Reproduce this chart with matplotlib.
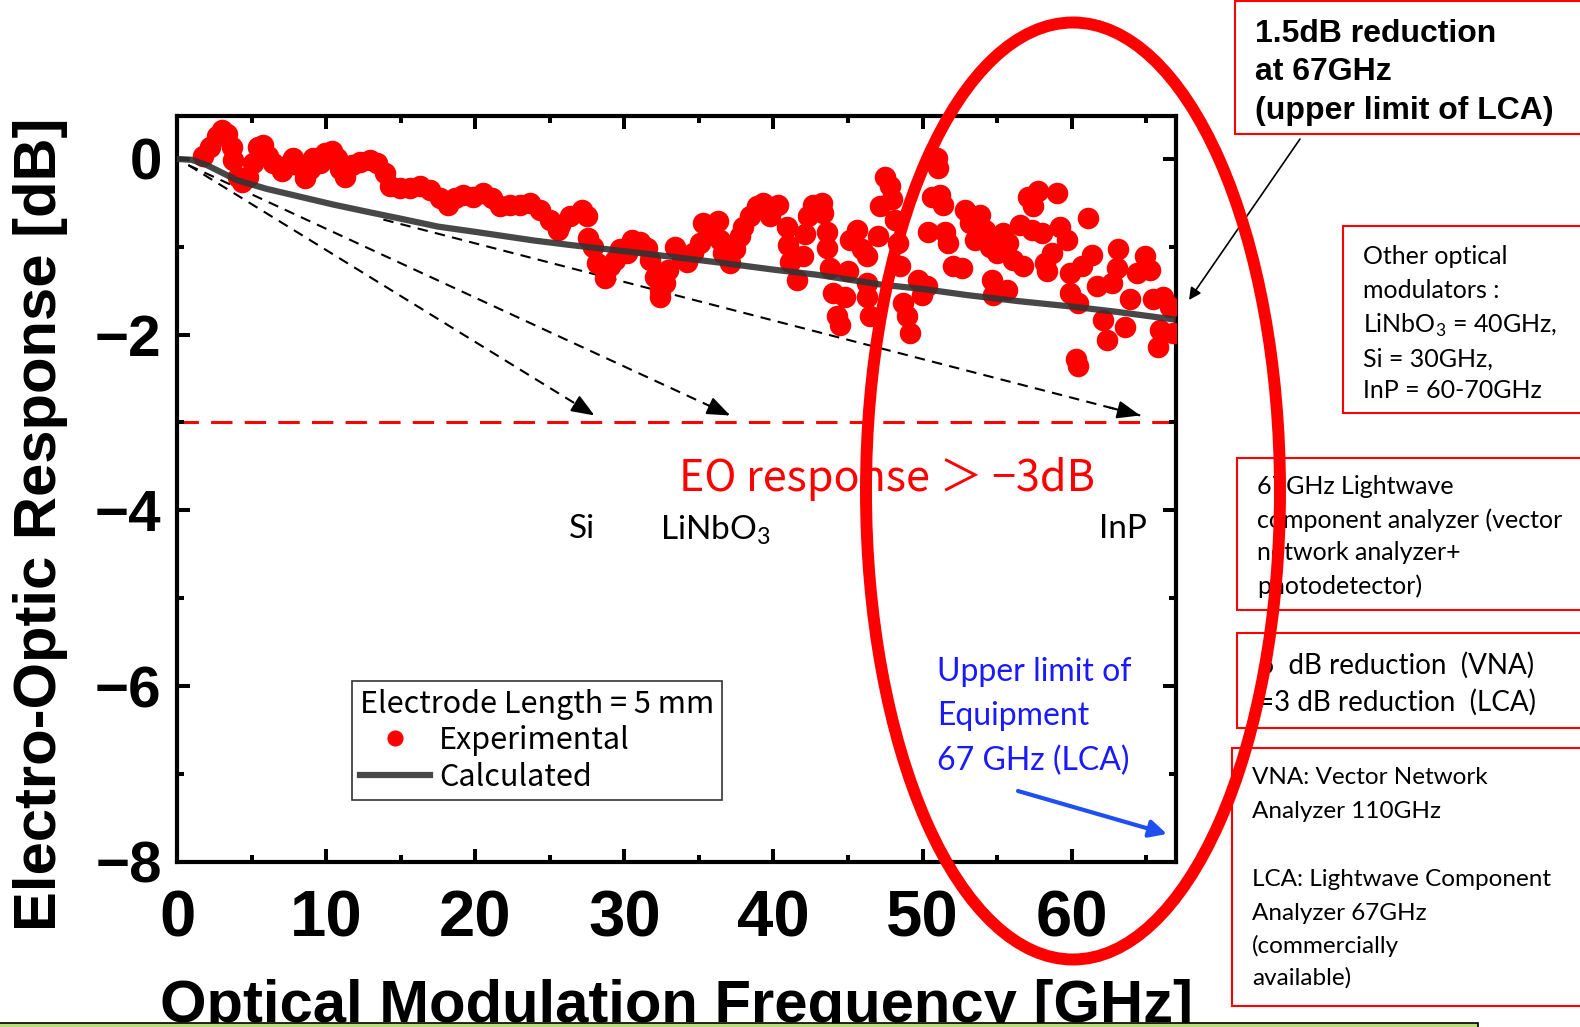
import matplotlib

matplotlib.use("Agg")
import matplotlib.pyplot as plt  # noqa: E402
from matplotlib.patches import Ellipse, FancyArrowPatch, Rectangle  # noqa: E402
from matplotlib.ticker import MultipleLocator  # noqa: E402

W, H = 1580, 1027

# measured EO response (GHz, dB)
exp_freq = [
    1.76, 2.21, 2.66, 3.00, 3.33, 3.67, 3.78, 4.11, 4.34, 4.78, 5.12, 5.45,
    5.79, 6.12, 6.46, 7.02, 7.46, 7.80, 8.14, 8.58, 8.92, 9.14, 9.59, 9.93,
    10.38, 10.71, 10.93, 11.27, 11.72, 12.27, 12.94, 13.39, 13.95, 14.29,
    14.96, 15.63, 16.30, 16.97, 17.64, 18.20, 18.65, 19.20, 19.87, 20.54,
    21.11, 21.66, 22.33, 23.00, 23.67, 24.35, 25.02, 25.57, 25.69, 26.36,
    27.14, 27.48, 27.59, 27.92, 28.15, 28.71, 29.04, 29.38, 29.71, 30.16,
    30.50, 31.05, 31.50, 31.72, 32.06, 32.39, 32.39, 32.73, 32.95, 33.40,
    33.85, 34.19, 34.63, 35.08, 35.30, 35.86, 36.30, 36.42, 36.64, 37.09,
    37.42, 37.76, 37.98, 38.43, 38.88, 39.32, 39.77, 40.33, 40.89, 41.00,
    41.11, 41.56, 42.01, 42.12, 42.34, 42.68, 43.24, 43.35, 43.58, 43.58,
    43.80, 44.02, 44.25, 44.47, 44.81, 45.02, 45.14, 45.59, 45.92, 46.26,
    46.26, 46.26, 46.48, 47.04, 47.15, 47.49, 47.82, 47.93, 48.16, 48.38,
    48.49, 48.71, 48.94, 49.16, 49.72, 49.95, 50.28, 50.39, 50.62, 50.95,
    51.06, 51.17, 51.40, 51.51, 51.73, 52.07, 52.63, 52.85, 53.19, 53.52,
    53.86, 54.19, 54.53, 54.64, 54.75, 54.98, 55.42, 55.65, 55.76, 56.09,
    56.54, 56.76, 57.10, 57.32, 57.43, 57.77, 57.99, 58.22, 58.33, 58.67,
    59.00, 59.22, 59.67, 59.89, 59.89, 60.30, 60.45, 60.45, 60.68, 61.12,
    61.35, 61.68, 62.13, 62.35, 62.69, 63.02, 63.13, 63.58, 63.92, 64.37,
    64.92, 65.26, 65.48, 65.82, 65.93, 66.15, 66.60, 66.80,
]
exp_resp = [
    0.03, 0.14, 0.26, 0.33, 0.28, 0.14, -0.01, -0.20, -0.26, -0.20, -0.05, 0.14,
    0.16, 0.03, -0.05, -0.14, -0.07, 0.01, -0.07, -0.22, -0.12, 0.01, -0.05, 0.07,
    0.09, 0.01, -0.12, -0.20, -0.07, -0.03, -0.01, -0.05, -0.16, -0.31,
    -0.33, -0.33, -0.31, -0.35, -0.45, -0.52, -0.45, -0.41, -0.43, -0.39,
    -0.45, -0.54, -0.52, -0.52, -0.50, -0.58, -0.69, -0.81, -0.75, -0.65,
    -0.58, -0.65, -0.90, -1.00, -1.19, -1.36, -1.22, -1.15, -1.03, -1.07,
    -0.92, -0.94, -1.01, -1.15, -1.34, -1.49, -1.57, -1.41, -1.26, -1.00,
    -1.13, -1.17, -1.07, -0.96, -0.73, -0.79, -0.71, -0.92, -1.07, -1.19,
    -1.03, -0.88, -0.77, -0.65, -0.54, -0.50, -0.65, -0.52, -0.77, -0.98,
    -1.17, -1.38, -1.11, -0.86, -0.65, -0.52, -0.50, -0.62, -0.83, -1.01,
    -1.24, -1.53, -1.79, -1.89, -1.57, -1.28, -0.92, -0.81, -1.03, -1.11,
    -1.41, -1.57, -1.79, -0.88, -0.54, -0.20, -0.31, -0.46, -0.69, -0.96,
    -1.22, -1.64, -1.79, -1.98, -1.38, -1.55, -1.45, -0.83, -0.43, 0.01,
    -0.10, -0.41, -0.52, -0.83, -0.96, -1.22, -1.24, -0.58, -0.73, -0.92,
    -0.64, -0.81, -1.00, -1.38, -1.55, -1.07, -0.84, -1.49, -0.96, -1.15,
    -0.75, -1.22, -0.43, -0.81, -0.54, -0.37, -0.84, -1.19, -1.28, -1.07,
    -0.39, -0.77, -0.92, -1.30, -1.53, -2.28, -1.64, -2.36, -1.22, -0.67,
    -1.09, -1.45, -1.83, -2.06, -1.41, -1.24, -1.03, -1.91, -1.60, -1.30,
    -1.11, -1.26, -1.60, -2.14, -1.95, -1.57, -1.68, -1.98,
]

# calculated response
calc_freq = [0, 1, 2, 4, 6, 8.5, 10.5, 13, 15, 17.5, 20, 22, 24, 26.4, 30,
             33, 36.4, 40, 43, 47.2, 50, 53, 56.5, 60, 63, 67]
calc_resp = [0, -0.01, -0.07, -0.24, -0.34, -0.44, -0.52, -0.61, -0.68, -0.77,
             -0.83, -0.88, -0.93, -0.98, -1.05, -1.11, -1.18, -1.26, -1.32,
             -1.43, -1.48, -1.55, -1.62, -1.68, -1.74, -1.83]

threshold_db = -3.0

# dashed guide arrows towards the -3 dB line (Si, LiNbO3, InP)
guide_start_freq = [0.76, 0.76, 13.84]
guide_start_resp = [-0.07, -0.07, -0.69]
guide_end_freq = [28.0, 37.1, 64.6]
guide_end_resp = [-2.92, -2.92, -2.92]

HEAVY = ["Liberation Sans"]
SOFT = ["Lato", "DejaVu Sans"]
GOTHIC = ["Noto Sans CJK JP", "DejaVu Sans"]


def px(x, y):
    """pixel position (top-left origin) -> figure fraction"""
    return x / W, 1 - y / H


def stack(fig, x, centers, lines, **kw):
    for yc, line in zip(centers, lines):
        fig.text(*px(x, yc), line, ha="left", va="center_baseline", **kw)


def box(fig, x0, y0, x1, y1):
    fx0, fy1 = px(x0, y0)
    fx1, fy0 = px(x1, y1)
    fig.add_artist(
        Rectangle((fx0, fy0), fx1 - fx0, fy1 - fy0, transform=fig.transFigure,
                  facecolor="white", edgecolor="#ff0000", lw=1.5, zorder=5)
    )


fig = plt.figure(figsize=(W / 100, H / 100), dpi=100, facecolor="white")
ax = fig.add_axes([177 / W, 1 - 861.7 / H, 999 / W, (861.7 - 115.9) / H])

ax.axhline(threshold_db, color="#ff0000", lw=2.2, ls=(0, (7, 4)), zorder=1)
for sf, sr, ef, er in zip(guide_start_freq, guide_start_resp,
                          guide_end_freq, guide_end_resp):
    ax.plot([sf, ef], [sr, er], color="black", lw=1.5, ls=(0, (5, 3.5)), zorder=2)
    # solid head on the last few percent of the guide
    ax.annotate(
        "", xy=(ef, er), xytext=(ef - 0.04 * (ef - sf), er - 0.04 * (er - sr)),
        arrowprops=dict(arrowstyle="-|>,head_length=1.4,head_width=0.55",
                        color="black", lw=1.5, shrinkA=0, shrinkB=0),
        zorder=2,
    )

dots, = ax.plot(exp_freq, exp_resp, "o", color="#ff0000", ms=15.5, mec="none",
                zorder=3, label="Experimental")
calc, = ax.plot(calc_freq, calc_resp, color="#333333", lw=4.5, alpha=0.9,
                zorder=4, label="Calculated")

ax.set_xlim(0, 67)
ax.set_ylim(-8, 0.49)
ax.xaxis.set_major_locator(MultipleLocator(10))
ax.xaxis.set_minor_locator(MultipleLocator(5))
ax.yaxis.set_major_locator(MultipleLocator(2))
ax.yaxis.set_minor_locator(MultipleLocator(1))
ax.tick_params(which="both", direction="in", top=True, right=True, width=2.9)
ax.tick_params(which="major", length=9.5)
ax.tick_params(which="minor", length=5)
ax.tick_params(axis="x", pad=20, labelsize=47)
ax.tick_params(axis="y", pad=11, labelsize=42)
for lbl in ax.get_xticklabels() + ax.get_yticklabels():
    lbl.set_fontfamily(HEAVY)
    lbl.set_fontweight("bold")
for sp in ax.spines.values():
    sp.set_linewidth(3)

leg = ax.legend(
    handles=[dots, calc], title="Electrode Length = 5 mm",
    loc="upper left", bbox_to_anchor=px(352, 681), bbox_transform=fig.transFigure,
    fancybox=False, framealpha=1, edgecolor="#333333", alignment="left",
    prop=dict(family=GOTHIC, size=22), title_fontproperties=dict(family=GOTHIC, size=22),
    handlelength=2.3, handletextpad=0.3, borderpad=0.25, labelspacing=0.18,
    markerscale=0.75, borderaxespad=0,
)
leg.get_frame().set_linewidth(1.2)
leg.set_zorder(6)
# keep the title centred while the rows stay left
leg._legend_title_box._text.set_horizontalalignment("center")

# annotations inside the plot
fig.text(*px(887, 474), "EO response ＞ −3dB", ha="center", va="center_baseline",
         fontsize=31, color="#ff0000", family=GOTHIC)
fig.text(*px(582, 526), "Si", ha="center", va="center_baseline", fontsize=24, family=SOFT)
fig.text(*px(660, 526), r"LiNbO$_\mathregular{3}$", ha="left", va="center_baseline",
         fontsize=24, family=SOFT)
fig.text(*px(1123, 526), "InP", ha="center", va="center_baseline", fontsize=24, family=SOFT)
stack(fig, 937, [669, 713, 758], ["Upper limit of", "Equipment", "67 GHz (LCA)"],
      fontsize=23, color="#1a1aff", family=SOFT)
fig.add_artist(FancyArrowPatch(px(1018, 791), px(1167, 834), transform=fig.transFigure,
                               arrowstyle="-|>", mutation_scale=26, lw=3,
                               color="#1f4ff0", shrinkA=0, shrinkB=0, zorder=7))

# axis titles
fig.text(*px(676, 1022), "Optical Modulation Frequency [GHz]", ha="center",
         va="baseline", fontsize=43, fontweight="bold", family=HEAVY)
fig.text(*px(41, 524), "Electro-Optic Response [dB]", ha="center", va="center",
         rotation=90, fontsize=43, fontweight="bold", family=HEAVY)

# side boxes
box(fig, 1235, 1, 1600, 134)
stack(fig, 1255, [31, 69, 108], ["1.5dB reduction", "at 67GHz", "(upper limit of LCA)"],
      fontsize=23, fontweight="bold", family=["Liberation Sans"], zorder=6)
fig.add_artist(FancyArrowPatch(px(1300, 139), px(1189, 300), transform=fig.transFigure,
                               arrowstyle="-|>", mutation_scale=18, lw=1.2,
                               color="black", shrinkA=0, shrinkB=0, zorder=7))

box(fig, 1343, 226, 1600, 413)
stack(fig, 1363, [254, 288, 322, 357, 389],
      ["Other optical", "modulators :", r"LiNbO$_\mathregular{3}$ = 40GHz,",
       "Si = 30GHz,", "InP = 60-70GHz"], fontsize=18, family=SOFT, zorder=6)

box(fig, 1237, 458, 1600, 610)
stack(fig, 1257, [484, 518, 551, 584],
      ["67GHz Lightwave", "component analyzer (vector", "network analyzer+",
       "photodetector)"], fontsize=18, family=SOFT, zorder=6)

box(fig, 1237, 633, 1600, 728)
stack(fig, 1258, [663, 700], ["6  dB reduction  (VNA)", "=3 dB reduction  (LCA)"],
      fontsize=20, family=SOFT, zorder=6)

box(fig, 1232, 748, 1600, 1006)
stack(fig, 1252, [776, 809, 878, 911, 944, 976],
      ["VNA: Vector Network", "Analyzer 110GHz", "LCA: Lightwave Component",
       "Analyzer 67GHz", "(commercially", "available)"], fontsize=17.5, family=SOFT,
      zorder=6)

# big red ellipse around the 50-67 GHz range
fig.add_artist(Ellipse(px(1073, 491), 414 / W, 937 / H, transform=fig.transFigure,
                       fill=False, edgecolor="#ff0000", lw=8.6, zorder=30))

# green strip at the bottom edge
fig.add_artist(Rectangle((-0.01, -0.01), 1478 / W + 0.01, 4 / H + 0.01,
                         transform=fig.transFigure, facecolor="#b9dc7a",
                         edgecolor="black", lw=1.2, zorder=31))

fig.savefig("out.png", dpi=100, facecolor="white")
